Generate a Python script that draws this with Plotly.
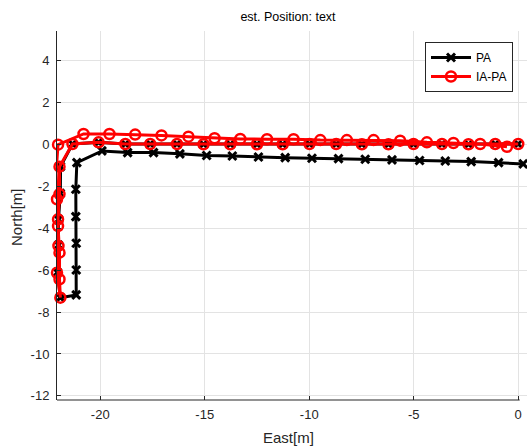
import plotly.graph_objects as go

# PA trajectory (East, North) in metres
pa_east = [0.0, -1.10, -2.38, -3.65, -5.01, -6.21, -7.48, -8.71, -9.99, -11.27,
           -12.50, -13.78, -15.06, -16.33, -17.61, -18.80, -20.08, -21.33,
           -21.90, -21.91, -22.00, -22.00, -22.05, -21.91,
           -21.15, -21.15, -21.15, -21.17, -21.17, -21.12,
           -19.92, -18.69, -17.45, -16.19, -14.91, -13.68, -12.43, -11.15, -9.87,
           -8.60, -7.32, -6.04, -4.72, -3.49, -2.25, -0.94, 0.24]
pa_north = [0.03, 0.03, 0.02, 0.03, 0.03, 0.02, 0.02, 0.03, 0.03, 0.02,
            0.02, 0.02, 0.02, 0.03, 0.03, 0.03, 0.11, 0.03,
            -1.05, -2.33, -3.57, -4.80, -6.10, -7.31,
            -7.18, -5.99, -4.71, -3.44, -2.13, -0.86,
            -0.30, -0.38, -0.38, -0.44, -0.52, -0.54, -0.59, -0.62, -0.65,
            -0.67, -0.70, -0.73, -0.76, -0.78, -0.81, -0.86, -0.92]

# IA-PA trajectory
ia_east = [0.0, -1.10, -2.38, -3.65, -5.01, -6.21, -7.48, -8.71, -9.99, -11.27,
           -12.50, -13.78, -15.06, -16.33, -17.61, -18.80, -20.08, -21.33,
           -21.95, -21.95, -22.02, -22.00, -22.07, -21.91,
           -21.95, -21.95, -22.02, -22.07, -22.11, -22.02,
           -20.80, -19.56, -18.33, -17.07, -15.78, -14.53, -13.30, -12.02, -10.75,
           -9.47, -8.20, -6.92, -5.65, -4.37, -3.10, -1.82, -0.54]
ia_north = [0.03, 0.03, 0.02, 0.03, 0.03, 0.02, 0.02, 0.03, 0.03, 0.02,
            0.02, 0.02, 0.02, 0.03, 0.03, 0.03, 0.11, 0.03,
            -1.05, -2.36, -3.57, -4.84, -6.12, -7.31,
            -6.43, -5.16, -3.89, -2.61, -1.29, 0.00,
            0.51, 0.51, 0.48, 0.44, 0.38, 0.31, 0.27, 0.26, 0.26,
            0.22, 0.22, 0.22, 0.19, 0.11, 0.08, 0.03, -0.10]

x_ticks = [-20, -15, -10, -5, 0]
y_ticks = [-12, -10, -8, -6, -4, -2, 0, 2, 4]

FONT = "Liberation Sans, Arial, sans-serif"
AX = "#262626"

fig = go.Figure()
fig.add_trace(go.Scatter(
    x=pa_east, y=pa_north, mode="lines+markers", name="PA",
    line=dict(color="black", width=3),
    marker=dict(symbol="x-thin", size=8, color="black",
                line=dict(color="black", width=3)),
    cliponaxis=False,
))
fig.add_trace(go.Scatter(
    x=ia_east, y=ia_north, mode="lines+markers", name="IA-PA",
    line=dict(color="#ff0000", width=3),
    marker=dict(symbol="circle-open", size=10, color="#ff0000",
                line=dict(color="#ff0000", width=2.5)),
    cliponaxis=False,
))

xr = [-22.07, 0.42]
fig.update_layout(
    width=527, height=446,
    margin=dict(l=57, r=0, t=31, b=46),
    paper_bgcolor="white", plot_bgcolor="white",
    font=dict(family=FONT, size=12, color=AX),
    showlegend=True,
    title=dict(text="est. Position: text", x=(288 - 57) / 470, xref="paper",
               xanchor="center", y=1 - 17 / 446, yanchor="middle",
               font=dict(family=FONT, size=12.5, color="#000000")),
    legend=dict(x=(513 - 57) / 470, y=(400 - 42) / 369, xanchor="right",
                yanchor="top", bordercolor=AX, borderwidth=1, bgcolor="white",
                font=dict(family=FONT, size=12, color="#000000"),
                itemwidth=40, tracegroupgap=0),
    xaxis=dict(range=xr, tickvals=x_ticks, ticktext=[str(v) for v in x_ticks],
               showgrid=True, gridcolor="#e3e3e3", gridwidth=1,
               zeroline=False, showline=False,
               ticks="inside", ticklen=4, tickcolor=AX,
               ticklabelstandoff=5,
               tickfont=dict(family=FONT, size=13, color=AX)),
    yaxis=dict(range=[-12.2, 5.43], tickvals=y_ticks,
               ticktext=[str(v) for v in y_ticks],
               showgrid=True, gridcolor="#e3e3e3", gridwidth=1,
               zeroline=False, showline=True, linecolor=AX, linewidth=1,
               ticks="inside", ticklen=4, tickcolor=AX,
               ticklabelstandoff=4,
               tickfont=dict(family=FONT, size=13, color=AX)),
    shapes=[dict(type="line", xref="x", yref="paper", x0=xr[0], x1=0.07,
                 y0=0, y1=0, line=dict(color=AX, width=1))],
    annotations=[
        dict(text="East[m]", xref="paper", yref="paper", x=(288 - 57) / 470,
             y=(400 - 437) / 369, xanchor="center", yanchor="middle",
             showarrow=False, font=dict(family=FONT, size=15, color=AX)),
        dict(text="North[m]", xref="paper", yref="paper", x=(16 - 57) / 470,
             y=(400 - 217) / 369, xanchor="center", yanchor="middle",
             textangle=-90, showarrow=False,
             font=dict(family=FONT, size=15, color=AX)),
    ],
)

fig.write_html("out.html")
